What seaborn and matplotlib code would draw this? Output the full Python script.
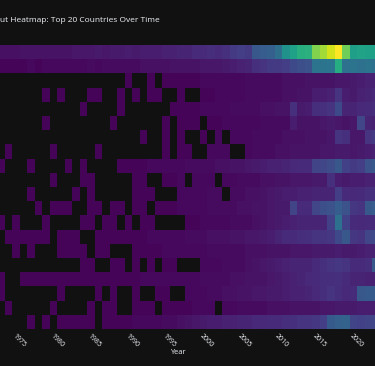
import numpy as np
import pandas as pd
import matplotlib
matplotlib.use("Agg")
import matplotlib.pyplot as plt
import seaborn as sns

N = np.nan

years = list(range(1973, 2024))
tick_years = [1975, 1980, 1985, 1990, 1995, 2000, 2005, 2010, 2015, 2020]

# output per country and year (share of the overall maximum, in %), rank 1 at the top
r01 = [4, 4, 4, 5, 5, 5, 5, 5, 5, 5, 6, 6, 6, 7, 6, 7, 7, 8, 7, 8, 8, 8, 9, 9, 10, 10,
       12, 12, 13, 12, 14, 17, 18, 17, 27, 29, 30, 36, 50, 57, 63, 64, 81, 86, 93, 100, 78, 56, 58, 57, 57]
r02 = [1, 1, 1, 1, 2, 1, 2, 2, 2, 2, 2, 2, 3, 2, 3, 3, 3, 3, 3, 4, 4, 4, 4, 5, 5, 5,
       5, 6, 6, 6, 7, 8, 9, 10, 14, 15, 17, 17, 18, 22, 24, 25, 38, 38, 39, 62, 37, 38, 37, 38, 37]
r03 = [N, N, N, N, N, N, N, N, N, N, N, N, N, N, N, N, N, 1, N, N, 1, N,
       1, 1, 1, 1, 1, 2, 2, 2, 2, 2, 2, 3, 3, 3, 3, 3, 4, 4, 4, 5, 5, 5, 5, 6, 6, 7, 8, 9, 9]
r04 = [N, N, N, N, N, N, 1, N, 1, N, N, N, 1, 1, N, N, 1, N, 1, N, 1, 1, N, N, 1, N, N,
       1, 1, 2, 2, 2, 2, 3, 3, 3, 3, 3, 4, 4, 5, 5, 8, 8, 9, 15, 8, 7, 9, 10, 11]
r05 = [N, N, N, N, N, N, N, N, N, N, N, 1, N, N, N, N, 1, N, N, N, N, N, N,
       1, 1, 1, 1, 2, 2, 2, 2, 3, 3, 3, 3, 4, 4, 5, 5, 14, 7, 8, 13, 14, 15, 22, 10, 10, 11, 12, 13]
r06 = [N, N, N, N, N, N, 1, N, N, N, N, N, N, N, N, 1, N, N, N, N, N, N, 1, N, 1, 1, 1, N,
       1, 1, 2, 2, 2, 2, 2, 3, 3, 3, 3, 8, 5, 5, 5, 6, 7, 6, 5, 6, 21, 10, 9]
r07 = [N, N, N, N, N, N, N, N, N, N, N, N, N, N, N, N, N, N, N, 1, N, N, 1, N, 1, N, N, 1, N, 2, N,
       2, 2, 2, 3, 3, 3, 3, 4, 4, 4, 5, 5, 5, 6, 15, 14, 6, 6, 15, 17]
r08 = [N, 1, N, N, N, N, N, 1, N, N, N, N, N, 1, N, N, N, N, N, N, N, N, 1, N, 1, 1, N, N, 2, 2, 2, N, N,
       2, 3, 3, 3, 4, 4, 5, 5, 5, 5, 6, 6, 7, 7, 6, 7, 8, 9]
r09 = [1, N, N, N, 1, N, N, N, N, 1, N, 1, N, N, N, N,
       1, 1, 1, 1, 2, 2, 2, 2, 2, 3, 3, 3, 3, 4, 4, 5, 5, 6, 7, 8, 9, 9, 10, 11, 12, 12, 20, 21, 23, 27, 19, 17, 18, 25, 27]
r10 = [N, N, N, N, N, N, N, 1, N, N, N, 1, 1, N, N, N, N, N, 1, 1, N, N, 1, 1, 2, N, 2, 2, 2, N,
       2, 2, 3, 3, 3, 4, 4, 5, 5, 6, 6, 6, 7, 7, 14, 8, 7, 8, 8, 9, 9]
r11 = [N, N, N, N, 1, N, N, N, N, N, 1, N, 1, N, N, N, N, N, 1, 1, 1, N, N, N, 2, 2, 2, 2, 3, 3, N,
       3, 3, 4, 4, 5, 6, 7, 8, 8, 9, 9, 10, 10, 10, 18, 12, 11, 12, 14, 14]
r12 = [N, N, N, N, N, 1, N, 1, 1, 1, N, N, 1, 1, N, 1, 1, N, 1, 1, N,
       1, 1, 1, 2, 2, 2, 2, 3, 3, 3, 3, 4, 4, 5, 5, 6, 7, 7, 20, 12, 12, 21, 24, 25, 29, 25, 16, 15, 27, 29]
r13 = [1, N, 1, N, N, N, 1, N, N, N, N, 1, 1, N, 1, 1, N, 1, N, 1, 1, N, N, N, N,
       1, 1, 2, 2, 2, 2, 3, 3, 3, 4, 5, 6, 7, 8, 9, 10, 10, 10, 10, 19, 37, 19, 12, 11, 12, 12]
r14 = [N, 1, 1, 1, 1, 1, 1, N, 1, 1, 1, N, N,
       1, 1, 1, 1, 1, 1, 1, 2, 2, 2, 2, 2, 3, 3, 3, 4, 4, 4, 5, 5, 6,
       6, 7, 8, 10, 12, 12, 13, 14, 15, 15, 16, 22, 27, 16, 15, 21, 22]
r15 = [N, N, 1, N, 1, N, N, N, 1, 1, 1, 1, N, 1, 1, N, N, N,
       1, 1, 1, 1, 2, 2, 2, 2, 2, 2, 3, 3, 3, 3, 3, 4, 4, 4, 5, 5, 5, 6, 6, 6, 7, 7, 7, 8, 7, 7, 8, 9, 9]
r16 = [N, N, N, N, N, N, N, N, N, N, N, 1, 1, N, N, 1, 1, N, 1, N, 1, N, 1, 1, N, N, N,
       2, 2, 2, 3, 3, 3, 4, 5, 6, 7, 8, 9, 10, 10, 10, 12, 14, 15, 16, 15, 12, 12, 13, 27]
r17 = [1, N, N, 1, 1, 1, 1, 1, 1, 1, 1, 1, 1, 1, 1, 1, 1, 1, 1, 2, 2, 2, 2, 2, 2,
       2, 2, 3, 3, 3, 3, 4, 4, 5, 5, 5, 6, 7, 8, 9, 10, 11, 12, 13, 13, 14, 12, 10, 10, 9, 9]
r18 = [1, N, N, N, N, N, N, N, 1, N, N, N, N, 1, N, 1, N, N, 1, N, N, 1, 1, N, N,
       2, 2, 2, 3, 3, 4, 4, 5, 5, 6, 6, 7, 7, 8, 9, 9, 10, 11, 13, 15, 13, 11, 12, 27, 28, 28]
r19 = [N, 1, N, N, N, N, N, 1, N, N, N, N, 1, N, 1, 1, N, N, 1, 1, 1, N, 1, 1, 1, 1, 2, 2, 2, N,
       2, 2, 3, 3, 3, 3, 4, 4, 4, 5, 5, 5, 5, 6, 6, 7, 7, 7, 8, 8, 8]
r20 = [N, N, N, N, 1, N, 1, N, 1, 1, 1, 1, 1, N,
       1, 1, 1, 1, 2, 2, 2, 2, 3, 3, 4, 5, 6, 7, 8, 8, 9,
       9, 10, 10, 11, 11, 12, 12, 13, 14, 15, 15, 16, 18, 28, 30, 31, 20, 19, 20, 21]

rows = [r01, r02, r03, r04, r05, r06, r07, r08, r09, r10,
        r11, r12, r13, r14, r15, r16, r17, r18, r19, r20]
for r in rows:
    assert len(r) == len(years), len(r)

df = pd.DataFrame(rows, index=range(1, 21), columns=years, dtype=float)

BG = "#111111"
FG = "#eef1f6"

sns.set_theme(style="dark")
plt.rcParams["font.family"] = ["Open Sans", "DejaVu Sans"]

fig = plt.figure(figsize=(3.75, 3.66), dpi=100, facecolor=BG)
# plot area runs past the left and right edge (labels and colorbar are off-frame)
ax = fig.add_axes([0.0, 37 / 366, 1.0, 284 / 366])
ax.set_facecolor(BG)

sns.heatmap(df, cmap="viridis", vmin=0, vmax=100, cbar=False, ax=ax,
            xticklabels=False, yticklabels=False, linewidths=0)

ax.set_xlim(0.367, 50.367)
ax.set_xticks([years.index(y) + 0.5 for y in tick_years])
ax.set_xticklabels([str(y) for y in tick_years], rotation=-45, ha="left", va="top",
                   rotation_mode="anchor", color=FG, fontsize=5.0)
ax.tick_params(axis="x", length=0, pad=2.5)
ax.set_xlabel("")
ax.set_ylabel("")
for s in ax.spines.values():
    s.set_visible(False)

fig.text(0.0, 1 - 20 / 366, "ut Heatmap: Top 20 Countries Over Time",
         ha="left", va="center", color=FG, fontsize=6.0)
fig.text(178 / 375, 1 - 353 / 366, "Year", ha="center", va="center", color=FG, fontsize=5.4)

fig.savefig("out.png", dpi=100, facecolor=BG)
